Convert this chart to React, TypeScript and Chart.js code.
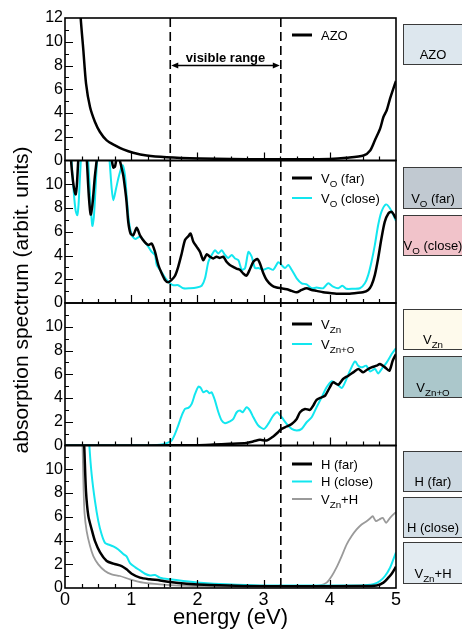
import React, { useEffect, useRef } from 'react';
import { Chart, registerables } from 'chart.js';

Chart.register(...registerables);

const FONT = '"Liberation Sans", Arial, Helvetica, sans-serif';

// ---------- data (energy in eV, absorption in arbitrary units) ----------
// Panel 1: AZO
const azoEnergy = [0.2, 0.237, 0.277, 0.318, 0.378, 0.453, 0.528, 0.63, 0.755, 0.88, 1.03, 1.234, 1.535, 2.04, 2.5, 3.0, 3.5, 4.0, 4.255, 4.51, 4.61, 4.68, 4.76, 4.81, 4.86, 4.91, 4.96, 5.0];
const azoAbs = [16, 12, 9.3, 6.48, 4.5, 3.24, 2.4, 1.69, 1.27, 0.93, 0.65, 0.42, 0.28, 0.17, 0.12, 0.1, 0.1, 0.13, 0.23, 0.42, 0.85, 1.69, 2.68, 3.66, 4.23, 5.21, 6.06, 6.7];

// Panel 2: V_O (far) and V_O (close)
const voFarEnergy = [0.05, 0.09, 0.12, 0.145, 0.162, 0.18, 0.2, 0.24, 0.29, 0.33, 0.36, 0.388, 0.415, 0.45, 0.478, 0.55, 0.65, 0.7, 0.73, 0.755, 0.78, 0.82, 0.85, 0.88, 0.91, 0.93, 0.956, 0.99, 1.03, 1.083, 1.133, 1.208, 1.259, 1.31, 1.36, 1.41, 1.46, 1.51, 1.56, 1.61, 1.662, 1.71, 1.763, 1.813, 1.864, 1.898, 1.939, 1.99, 2.04, 2.09, 2.14, 2.19, 2.24, 2.29, 2.34, 2.39, 2.44, 2.49, 2.54, 2.59, 2.64, 2.69, 2.74, 2.79, 2.845, 2.905, 2.945, 2.996, 3.046, 3.12, 3.197, 3.27, 3.35, 3.424, 3.5, 3.575, 3.65, 3.726, 3.8, 3.9, 4.0, 4.1, 4.2, 4.3, 4.4, 4.5, 4.58, 4.63, 4.68, 4.73, 4.78, 4.83, 4.885, 4.935, 5.0];
const voFarAbs = [20, 12.2, 10.3, 9.4, 9.15, 10, 12, 15, 15, 12, 9, 7.45, 8.3, 10.6, 12, 16, 15, 12.3, 11.4, 11.5, 12.1, 12.1, 11.5, 10.75, 9.5, 8.5, 6.8, 5.85, 5.7, 6.33, 5.7, 5.1, 4.88, 5.0, 4.3, 3.2, 2.5, 1.94, 1.74, 1.94, 2.3, 3.05, 4.17, 5.3, 5.63, 5.85, 5.15, 4.73, 4.3, 3.6, 4.1, 3.9, 3.75, 3.9, 3.8, 3.9, 3.47, 3.2, 3.05, 2.9, 2.8, 2.5, 2.3, 2.8, 3.47, 3.7, 3.33, 2.5, 1.94, 1.5, 1.3, 1.24, 1.16, 1.02, 0.9, 1.1, 1.24, 1.1, 1.02, 0.9, 0.84, 0.78, 0.78, 0.78, 0.84, 0.9, 1.1, 1.5, 2.35, 3.75, 5.43, 6.83, 7.54, 7.68, 7.1];
const voCloseEnergy = [0.05, 0.1, 0.13, 0.16, 0.186, 0.205, 0.225, 0.245, 0.3, 0.36, 0.39, 0.413, 0.435, 0.46, 0.488, 0.58, 0.67, 0.705, 0.73, 0.77, 0.806, 0.84, 0.87, 0.906, 0.93, 0.967, 1.01, 1.058, 1.133, 1.208, 1.26, 1.31, 1.36, 1.385, 1.435, 1.486, 1.536, 1.586, 1.637, 1.71, 1.788, 1.888, 1.99, 2.065, 2.115, 2.166, 2.216, 2.266, 2.317, 2.367, 2.417, 2.467, 2.518, 2.568, 2.62, 2.67, 2.72, 2.77, 2.82, 2.87, 2.92, 2.996, 3.07, 3.146, 3.222, 3.27, 3.323, 3.373, 3.424, 3.5, 3.575, 3.65, 3.726, 3.8, 3.9, 3.977, 4.05, 4.128, 4.19, 4.25, 4.355, 4.455, 4.53, 4.58, 4.63, 4.68, 4.73, 4.78, 4.85, 4.91, 4.96, 5.0];
const voCloseAbs = [20, 12, 9.5, 7.8, 7.4, 8.3, 10.5, 12.5, 16, 11, 8, 6.5, 7.2, 9.5, 12.2, 17, 12.2, 9.64, 8.65, 9.6, 10.5, 11.2, 11.6, 10.75, 9.1, 6.8, 5.7, 5.4, 5.58, 5.1, 4.73, 4.3, 4.04, 3.2, 2.8, 2.35, 1.94, 1.66, 1.5, 1.5, 1.24, 1.24, 1.3, 1.45, 2.08, 3.47, 4.04, 4.45, 4.17, 4.45, 4.04, 3.8, 4.04, 3.75, 3.6, 2.8, 2.94, 4.3, 3.9, 2.94, 2.94, 2.8, 2.94, 2.8, 3.44, 3.2, 2.94, 3.2, 2.8, 2.08, 1.66, 1.57, 1.24, 1.3, 1.24, 1.66, 1.38, 1.24, 1.45, 1.2, 1.2, 1.24, 1.66, 2.35, 3.47, 4.87, 6.55, 7.68, 8.3, 7.96, 7.4, 6.9];

// Panel 3: V_Zn and V_Zn+O
const vznEnergy = [0, 1.0, 1.6, 1.99, 2.24, 2.49, 2.74, 2.85, 2.945, 3.046, 3.146, 3.22, 3.27, 3.348, 3.424, 3.5, 3.55, 3.625, 3.7, 3.75, 3.8, 3.877, 3.93, 4.0, 4.05, 4.128, 4.2, 4.28, 4.355, 4.43, 4.505, 4.556, 4.63, 4.708, 4.758, 4.834, 4.9, 4.95, 5.0];
const vznAbs = [0, 0, 0.02, 0.03, 0.08, 0.14, 0.22, 0.35, 0.48, 0.42, 0.76, 1.12, 1.4, 1.6, 1.82, 2.24, 2.8, 3.08, 3.0, 3.36, 3.84, 4.06, 4.2, 4.9, 5.32, 5.12, 5.6, 5.88, 6.16, 6.44, 6.16, 6.36, 6.58, 6.72, 6.86, 6.58, 6.3, 7.14, 7.7];
const vznoEnergy = [0, 1.2, 1.435, 1.536, 1.61, 1.662, 1.71, 1.763, 1.813, 1.864, 1.914, 1.964, 2.015, 2.05, 2.09, 2.14, 2.18, 2.216, 2.266, 2.317, 2.367, 2.417, 2.493, 2.543, 2.594, 2.644, 2.684, 2.744, 2.795, 2.845, 2.92, 3.006, 3.07, 3.146, 3.207, 3.273, 3.348, 3.424, 3.5, 3.575, 3.65, 3.726, 3.8, 3.877, 3.952, 4.03, 4.103, 4.18, 4.23, 4.305, 4.38, 4.43, 4.48, 4.55, 4.607, 4.683, 4.73, 4.783, 4.86, 4.935, 5.0];
const vznoAbs = [0.02, 0.02, 0.07, 0.2, 0.42, 0.98, 1.68, 2.52, 3.08, 3.17, 3.5, 4.34, 4.96, 4.85, 4.48, 4.62, 4.4, 4.48, 3.78, 2.8, 2.1, 1.88, 2.04, 2.24, 2.8, 2.94, 2.8, 3.22, 2.94, 2.38, 1.68, 1.4, 1.82, 2.52, 2.8, 2.38, 1.82, 1.4, 1.26, 1.4, 1.96, 2.38, 3.22, 4.06, 4.9, 5.41, 5.18, 4.85, 5.32, 6.3, 7.08, 6.72, 6.58, 6.72, 6.24, 6.44, 6.07, 6.44, 7.0, 7.7, 8.2];

// Panel 4: H (far), H (close), V_Zn+H
const hFarEnergy = [0.25, 0.29, 0.317, 0.353, 0.403, 0.453, 0.53, 0.63, 0.73, 0.856, 0.93, 1.007, 1.133, 1.284, 1.435, 1.586, 1.838, 2.19, 2.694, 3.5, 4.455, 4.707, 4.81, 4.885, 4.935, 4.985, 5.0];
const hFarAbs = [16, 12, 8.15, 6.05, 4.93, 3.95, 3.0, 2.27, 2.05, 1.85, 1.57, 1.2, 0.87, 0.73, 0.64, 0.5, 0.36, 0.25, 0.17, 0.15, 0.17, 0.22, 0.45, 0.87, 1.2, 1.65, 1.8];
const hCloseEnergy = [0.33, 0.368, 0.403, 0.453, 0.503, 0.554, 0.604, 0.655, 0.73, 0.806, 0.88, 0.93, 0.982, 1.058, 1.133, 1.208, 1.284, 1.36, 1.435, 1.586, 1.788, 2.04, 2.44, 2.945, 4.455, 4.657, 4.758, 4.834, 4.91, 4.96, 5.0];
const hCloseAbs = [16, 12, 9.55, 7.31, 5.63, 4.5, 3.8, 3.66, 3.5, 3.24, 2.86, 2.66, 2.1, 1.76, 1.48, 1.2, 1.06, 1.09, 0.87, 0.73, 0.59, 0.45, 0.31, 0.22, 0.22, 0.31, 0.59, 1.01, 1.71, 2.41, 3.0];
const vznhEnergy = [0.25, 0.265, 0.28, 0.295, 0.327, 0.378, 0.428, 0.503, 0.604, 0.705, 0.83, 0.982, 1.183, 1.435, 1.939, 3.0, 3.7, 3.852, 3.952, 4.03, 4.1, 4.18, 4.255, 4.33, 4.405, 4.48, 4.556, 4.607, 4.647, 4.697, 4.748, 4.8, 4.85, 4.91, 4.985, 5.0];
const vznhAbs = [16, 12, 8.5, 6.3, 4.79, 3.53, 2.69, 1.99, 1.43, 1.15, 1.01, 0.73, 0.45, 0.31, 0.17, 0.15, 0.17, 0.22, 0.45, 1.01, 1.71, 2.69, 3.67, 4.37, 4.93, 5.35, 5.63, 5.85, 6.05, 5.63, 5.77, 5.91, 5.49, 5.91, 6.33, 6.35];

// axes / annotations
const xTickValues = [0, 1, 2, 3, 4, 5];
const yTickValues = [0, 2, 4, 6, 8, 10, 12];
const visibleRange = [1.59, 3.26];
const visibleArrowLevel = 8;

const BLACK = '#000000';
const CYAN = '#12e6ef';
const GRAY = '#9a9a9a';

type Part = { t: string; sub?: boolean };
type LegendItem = { parts: Part[]; color: string; width: number };
type Panel = {
  axis: string;
  legendTop: number;
  legendGap: number;
  items: LegendItem[];
  boxes: { parts: Part[]; fill: string; top: number; bottom: number }[];
};

const PANELS: Panel[] = [
  {
    axis: 'yA', legendTop: 17, legendGap: 20,
    items: [{ parts: [{ t: 'AZO' }], color: BLACK, width: 3 }],
    boxes: [{ parts: [{ t: 'AZO' }], fill: '#dde7ee', top: 24, bottom: 64 }],
  },
  {
    axis: 'yO', legendTop: 17.5, legendGap: 20,
    items: [
      { parts: [{ t: 'V' }, { t: 'O', sub: true }, { t: ' (far)' }], color: BLACK, width: 3 },
      { parts: [{ t: 'V' }, { t: 'O', sub: true }, { t: ' (close)' }], color: CYAN, width: 2 },
    ],
    boxes: [
      { parts: [{ t: 'V' }, { t: 'O', sub: true }, { t: ' (far)' }], fill: '#c1c9d1', top: 167, bottom: 208 },
      { parts: [{ t: 'V' }, { t: 'O', sub: true }, { t: ' (close)' }], fill: '#f1c3ca', top: 215, bottom: 255 },
    ],
  },
  {
    axis: 'yZ', legendTop: 21, legendGap: 20,
    items: [
      { parts: [{ t: 'V' }, { t: 'Zn', sub: true }], color: BLACK, width: 3 },
      { parts: [{ t: 'V' }, { t: 'Zn+O', sub: true }], color: CYAN, width: 2 },
    ],
    boxes: [
      { parts: [{ t: 'V' }, { t: 'Zn', sub: true }], fill: '#fefaec', top: 309, bottom: 349 },
      { parts: [{ t: 'V' }, { t: 'Zn+O', sub: true }], fill: '#abc7cb', top: 356, bottom: 397 },
    ],
  },
  {
    axis: 'yH', legendTop: 18.5, legendGap: 17.5,
    items: [
      { parts: [{ t: 'H (far)' }], color: BLACK, width: 3 },
      { parts: [{ t: 'H (close)' }], color: CYAN, width: 2 },
      { parts: [{ t: 'V' }, { t: 'Zn', sub: true }, { t: '+H' }], color: GRAY, width: 2 },
    ],
    boxes: [
      { parts: [{ t: 'H (far)' }], fill: '#cdd9e2', top: 451, bottom: 491 },
      { parts: [{ t: 'H (close)' }], fill: '#d3dee6', top: 497, bottom: 537 },
      { parts: [{ t: 'V' }, { t: 'Zn', sub: true }, { t: '+H' }], fill: '#e3ebf1', top: 542, bottom: 583 },
    ],
  },
];

const pts = (e: number[], a: number[]) => e.map((x, i) => ({ x, y: a[i] }));

function drawRich(ctx: CanvasRenderingContext2D, parts: Part[], x: number, y: number, size: number, align: 'left' | 'center') {
  const subSize = size * 0.75;
  let w = 0;
  for (const p of parts) {
    ctx.font = `${p.sub ? subSize : size}px ${FONT}`;
    w += ctx.measureText(p.t).width;
  }
  let cx = align === 'center' ? x - w / 2 : x;
  ctx.textAlign = 'left';
  ctx.textBaseline = 'alphabetic';
  for (const p of parts) {
    ctx.font = `${p.sub ? subSize : size}px ${FONT}`;
    ctx.fillText(p.t, cx, p.sub ? y + size * 0.32 : y);
    cx += ctx.measureText(p.t).width;
  }
}

const decor = {
  id: 'decor',
  afterDatasetsDraw(chart: any) {
    const ctx: CanvasRenderingContext2D = chart.ctx;
    const xs = chart.scales.x;
    const ys = PANELS.map((p) => chart.scales[p.axis]);
    const L = xs.left;
    const R = xs.right;
    ctx.save();
    ctx.strokeStyle = '#000';
    ctx.fillStyle = '#000';

    // inward ticks
    ctx.lineWidth = 1.2;
    ctx.beginPath();
    ys.forEach((s: any) => {
      for (let v = 1; v < 12; v++) {
        const py = Math.round(s.getPixelForValue(v)) + 0.5;
        const len = v % 2 === 0 ? 8 : 4;
        ctx.moveTo(L, py);
        ctx.lineTo(L + len, py);
      }
      for (let i = 1; i < 20; i++) {
        const px = Math.round(xs.getPixelForValue(i * 0.25)) + 0.5;
        const len = i % 4 === 0 ? 8 : 4;
        ctx.moveTo(px, s.bottom);
        ctx.lineTo(px, s.bottom - len);
      }
    });
    ctx.stroke();

    // panel frames
    ctx.lineWidth = 1.6;
    ys.forEach((s: any) => ctx.strokeRect(L, s.top, R - L, s.bottom - s.top));

    // visible range dashed lines
    const top = ys[0].top;
    const bottom = ys[ys.length - 1].bottom;
    ctx.lineWidth = 1.6;
    ctx.setLineDash([9, 5]);
    visibleRange.forEach((e) => {
      const px = xs.getPixelForValue(e);
      ctx.beginPath();
      ctx.moveTo(px, top);
      ctx.lineTo(px, bottom);
      ctx.stroke();
    });
    ctx.setLineDash([]);

    // arrow + label
    const ax1 = xs.getPixelForValue(visibleRange[0]) + 1;
    const ax2 = xs.getPixelForValue(visibleRange[1]) - 1;
    const ay = ys[0].getPixelForValue(visibleArrowLevel);
    ctx.lineWidth = 1.5;
    ctx.beginPath();
    ctx.moveTo(ax1 + 4, ay);
    ctx.lineTo(ax2 - 4, ay);
    ctx.stroke();
    ctx.beginPath();
    ctx.moveTo(ax1, ay);
    ctx.lineTo(ax1 + 7, ay - 3);
    ctx.lineTo(ax1 + 7, ay + 3);
    ctx.closePath();
    ctx.moveTo(ax2, ay);
    ctx.lineTo(ax2 - 7, ay - 3);
    ctx.lineTo(ax2 - 7, ay + 3);
    ctx.closePath();
    ctx.fill();
    ctx.font = `bold 13px ${FONT}`;
    ctx.textAlign = 'center';
    ctx.textBaseline = 'alphabetic';
    ctx.fillText('visible range', (ax1 + ax2) / 2, ay - 4);

    // legends
    PANELS.forEach((p, pi) => {
      const s = ys[pi];
      p.items.forEach((it, k) => {
        const ly = s.top + p.legendTop + k * p.legendGap;
        ctx.strokeStyle = it.color;
        ctx.lineWidth = it.width;
        ctx.beginPath();
        ctx.moveTo(R - 104, ly);
        ctx.lineTo(R - 84, ly);
        ctx.stroke();
        ctx.fillStyle = '#000';
        drawRich(ctx, it.parts, R - 75, ly + 4.5, 13, 'left');
      });
    });

    // right-hand colour boxes
    PANELS.forEach((p) => {
      p.boxes.forEach((b) => {
        ctx.fillStyle = b.fill;
        ctx.fillRect(403, b.top, 62, b.bottom - b.top);
        ctx.strokeStyle = '#3a3a3a';
        ctx.lineWidth = 1;
        ctx.strokeRect(403.5, b.top + 0.5, 62, b.bottom - b.top);
        ctx.fillStyle = '#000';
        drawRich(ctx, b.parts, 433, b.bottom - 5, 13, 'center');
      });
    });

    // y-axis title
    ctx.save();
    ctx.translate(22, (top + bottom) / 2 - 3);
    ctx.rotate(-Math.PI / 2);
    ctx.font = `21px ${FONT}`;
    ctx.textAlign = 'center';
    ctx.textBaseline = 'middle';
    ctx.fillStyle = '#000';
    ctx.fillText('absorption spectrum (arbit. units)', 0, 0);
    ctx.restore();

    ctx.restore();
  },
};

function yAxis(weight: number, showTop: boolean) {
  return {
    type: 'linear',
    position: 'left',
    stack: 'panels',
    stackWeight: 1,
    weight,
    min: 0,
    max: 12,
    afterBuildTicks: (s: any) => {
      s.ticks = yTickValues.map((v) => ({ value: v }));
    },
    grid: { display: false, drawTicks: false },
    border: { display: false },
    ticks: {
      autoSkip: false,
      color: '#000',
      padding: 2,
      font: { family: FONT, size: 16 },
      callback: (v: number) => (v === 12 && !showTop ? '' : String(v)),
    },
    afterFit: (s: any) => {
      s.width = 57;
    },
  };
}

export default function App() {
  const ref = useRef<HTMLCanvasElement | null>(null);
  useEffect(() => {
    if (!ref.current) return;
    const line = (label: string, e: number[], a: number[], axis: string, color: string, width: number) => ({
      label,
      data: pts(e, a),
      yAxisID: axis,
      borderColor: color,
      backgroundColor: color,
      borderWidth: width,
      pointRadius: 0,
      tension: 0.25,
      fill: false,
      clip: 0,
    });
    const chart = new Chart(ref.current, {
      type: 'line',
      data: {
        datasets: [
          line('AZO', azoEnergy, azoAbs, 'yA', BLACK, 2.5),
          line('VO (far)', voFarEnergy, voFarAbs, 'yO', BLACK, 2.5),
          line('VO (close)', voCloseEnergy, voCloseAbs, 'yO', CYAN, 2),
          line('VZn', vznEnergy, vznAbs, 'yZ', BLACK, 2.5),
          line('VZn+O', vznoEnergy, vznoAbs, 'yZ', CYAN, 2),
          line('H (far)', hFarEnergy, hFarAbs, 'yH', BLACK, 2.5),
          line('H (close)', hCloseEnergy, hCloseAbs, 'yH', CYAN, 2),
          line('VZn+H', vznhEnergy, vznhAbs, 'yH', GRAY, 1.8),
        ] as any,
      },
      options: {
        animation: false,
        responsive: false,
        maintainAspectRatio: false,
        layout: { padding: { left: 8, right: 66, top: 18, bottom: 0 } },
        plugins: { legend: { display: false }, tooltip: { enabled: false } },
        scales: {
          x: {
            type: 'linear',
            position: 'bottom',
            min: 0,
            max: 5,
            afterBuildTicks: (s: any) => {
              s.ticks = xTickValues.map((v) => ({ value: v }));
            },
            grid: { display: false, drawTicks: false },
            border: { display: false },
            ticks: { autoSkip: false, color: '#000', padding: 1, font: { family: FONT, size: 18 } },
            title: {
              display: true,
              text: 'energy (eV)',
              color: '#000',
              font: { family: FONT, size: 22 },
              padding: { top: 0, bottom: 0 },
            },
            afterFit: (s: any) => {
              s.height = 43;
            },
          },
          yA: yAxis(4, true),
          yO: yAxis(3, false),
          yZ: yAxis(2, false),
          yH: yAxis(1, false),
        } as any,
      },
      plugins: [decor],
    });
    return () => chart.destroy();
  }, []);
  return (
    <div style={{ position: 'absolute', left: 0, top: 0, width: 462, height: 631, background: '#fff' }}>
      <canvas ref={ref} width={462} height={631} style={{ width: 462, height: 631, display: 'block' }} />
    </div>
  );
}
